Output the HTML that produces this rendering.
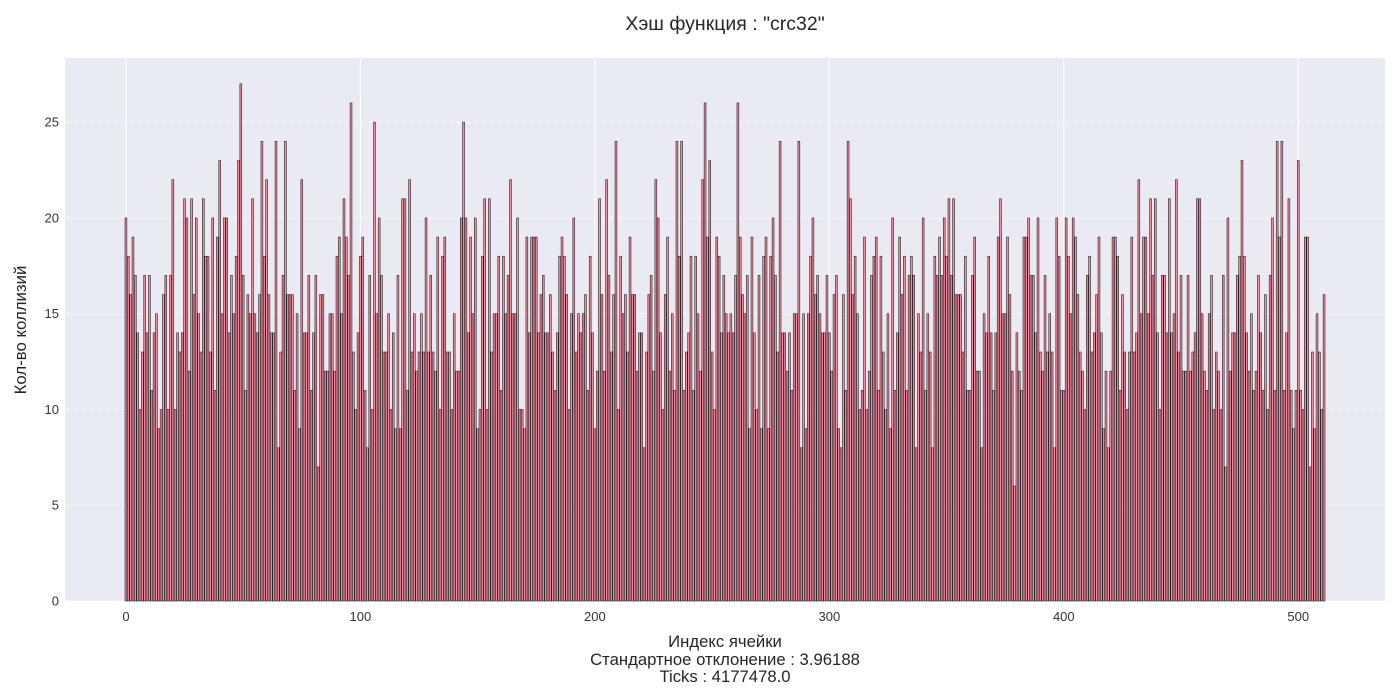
<!DOCTYPE html>
<html><head><meta charset="utf-8">
<style>
html,body{margin:0;padding:0;background:#fff;}
svg{display:block;font-family:"Liberation Sans","DejaVu Sans",sans-serif;}
</style></head>
<body>
<svg id="chart" width="1400" height="700" viewBox="0 0 1400 700">
  <rect x="0" y="0" width="1400" height="700" fill="#ffffff"/>
  <rect x="65" y="58" width="1320" height="543" fill="#eaeaf2"/>
  <g id="grid"></g>
  <g id="bars"></g>
  <g id="xticks"></g>
  <g id="yticks"></g>
  <text x="725" y="30" text-anchor="middle" font-size="19.5" fill="#262626">Хэш функция : "crc32"</text>
  <text x="26" y="330" text-anchor="middle" font-size="16.8" fill="#262626" transform="rotate(-90 26 330)">Кол-во коллизий</text>
  <text x="725" y="647" text-anchor="middle" font-size="16.7" fill="#262626">Индекс ячейки</text>
  <text x="725" y="665" text-anchor="middle" font-size="16.7" fill="#262626">Стандартное отклонение : 3.96188</text>
  <text x="725" y="682" text-anchor="middle" font-size="16.7" fill="#262626">Ticks : 4177478.0</text>
</svg>
<script>
const counts = [
20,18,16,19,17,14,10,13,17,14,17,11,14,15,9,10,16,17,10,17,22,10,14,13,14,21,20,12,21,16,20,15,13,21,18,18,13,20,11,19,23,15,
20,20,14,17,15,18,23,27,17,11,16,15,21,15,14,16,24,18,22,16,
14,14,24,8,13,17,24,16,16,16,11,15,9,22,14,14,17,11,14,17,7,16,
16,12,12,15,15,12,18,19,15,21,19,17,26,13,10,14,18,19,11,8,17,10,25,15,20,17,13,13,15,10,14,9,17,9,21,21,11,22,13,15,12,13,15,
13,20,13,17,13,12,19,10,18,19,13,13,10,15,12,12,20,25,20,14,19,15,20,9,10,18,21,10,21,13,15,15,18,11,18,15,17,22,15,15,20,10,
10,9,19,14,19,19,19,14,16,17,14,14,16,13,11,14,18,19,18,16,10,15,20,13,15,14,15,16,11,18,14,9,12,21,16,12,22,17,13,16,24,10,18,
15,16,13,19,16,16,12,14,14,8,13,16,17,12,22,20,14,10,16,19,12,15,11,24,18,24,11,13,14,18,11,18,15,12,22,26,19,23,13,10,19,18,14,
17,15,14,15,14,17,26,19,16,15,17,9,19,14,10,17,9,18,19,9,18,20,17,13,24,14,14,12,14,11,15,15,24,8,15,9,15,18,20,16,17,15,
14,14,17,14,12,16,17,9,8,16,11,24,21,16,18,15,10,11,19,10,12,17,18,19,11,18,13,10,15,9,20,11,14,19,16,18,11,17,18,17,8,15,13,
20,11,15,13,8,18,17,19,17,20,18,21,17,21,16,16,16,13,18,11,11,17,19,12,12,8,15,14,18,14,11,14,19,21,15,15,19,16,12,6,14,12,11,
19,19,20,17,17,14,20,13,12,17,13,15,13,8,20,18,11,11,20,18,15,20,19,16,13,12,10,17,18,13,14,16,19,14,9,12,8,12,19,19,18,11,16,
13,10,13,19,13,14,22,15,19,19,15,21,17,21,14,10,17,17,14,21,14,15,22,13,17,12,12,17,12,13,14,21,21,15,12,11,15,17,10,13,12,10,17,
7,20,12,14,14,17,18,23,18,14,12,15,11,12,17,14,11,16,10,17,20,11,24,19,24,11,14,21,11,9,11,23,11,10,19,19,7,13,9,15,13,10,16
];
const xTickValues = [0,100,200,300,400,500];
const yTickValues = [0,5,10,15,20,25];

const NS = "http://www.w3.org/2000/svg";
const plotLeft = 65, plotRight = 1385, plotTop = 58, plotBottom = 601;
const n = counts.length;
const xMin = -0.4 - 0.05*(n - 1 + 0.8), xMax = (n - 1) + 0.4 + 0.05*(n - 1 + 0.8);
const yMax = Math.max(...counts) * 1.05;
function xScale(v){ return plotLeft + (v - xMin) / (xMax - xMin) * (plotRight - plotLeft); }
function yScale(v){ return plotBottom - v / yMax * (plotBottom - plotTop); }

function mk(tag, attrs, parent){
  const el = document.createElementNS(NS, tag);
  for (const k in attrs) el.setAttribute(k, attrs[k]);
  parent.appendChild(el);
  return el;
}
const grid = document.getElementById('grid');
const bars = document.getElementById('bars');
const xt = document.getElementById('xticks');
const yt = document.getElementById('yticks');

xTickValues.forEach(v => {
  const x = xScale(v);
  const l = mk('line', {x1:x, x2:x, y1:plotTop, y2:plotBottom, stroke:'#ffffff', 'stroke-width':1}, grid);
  
  
  const t = mk('text', {x:x, y:plotBottom+20, 'text-anchor':'middle', 'font-size':13, fill:'#333'}, xt);
  t.textContent = v;
  
  
});
yTickValues.forEach(v => {
  const y = yScale(v);
  const l = mk('line', {x1:plotLeft, x2:plotRight, y1:y, y2:y, stroke:'#ffffff', 'stroke-width':1, 'stroke-dasharray':'5,3', opacity:0.8}, grid);
  
  
  const t = mk('text', {x:plotLeft-6, y:y+4.5, 'text-anchor':'end', 'font-size':13, fill:'#333'}, yt);
  t.textContent = v;
  
  
});
counts.forEach((c, i) => {
  const x0 = xScale(i - 0.4), x1 = xScale(i + 0.4);
  const y = yScale(c);
  const r = mk('rect', {x:x0, y:y, width:x1-x0, height:plotBottom-y, fill:'#f28ca0', stroke:'#2b2326', 'stroke-width':0.6}, bars);
  
  
});
</script>
</body></html>
